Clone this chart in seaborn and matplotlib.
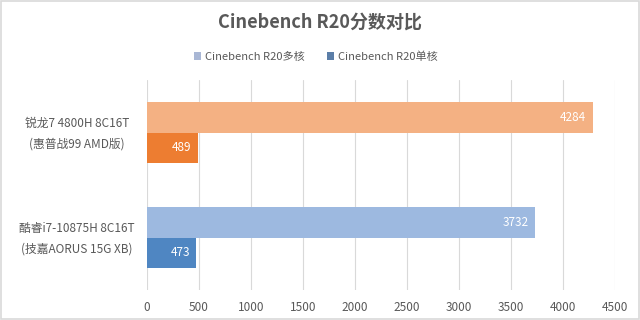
import matplotlib
matplotlib.use("Agg")
import matplotlib.pyplot as plt
import matplotlib.transforms as mtrans
import seaborn as sns
import pandas as pd
from matplotlib.patches import Patch, Rectangle

categories = ["锐龙7 4800H 8C16T\n(惠普战99 AMD版)", "酷睿i7-10875H 8C16T\n(技嘉AORUS 15G XB)"]
series_names = ["Cinebench R20多核", "Cinebench R20单核"]
multi_core = [4284, 3732]
single_core = [489, 473]
x_ticks = [0, 500, 1000, 1500, 2000, 2500, 3000, 3500, 4000, 4500]

bar_colors = [["#F4B183", "#ED7D31"], ["#9DB9E0", "#4F86C2"]]
legend_colors = ["#A9B7D5", "#5B7EA8"]

sns.set_theme(style="white")
plt.rcParams['font.family'] = ['Noto Sans CJK SC', 'DejaVu Sans']

df = pd.DataFrame({
    "cat": categories * 2,
    "series": [series_names[0]] * 2 + [series_names[1]] * 2,
    "value": multi_core + single_core,
})

fig = plt.figure(figsize=(6.4, 3.2), dpi=100)
ax = fig.add_axes([147 / 640, 30 / 320, 468 / 640, 210 / 320])

sns.barplot(data=df, y="cat", x="value", hue="series", orient="h",
            width=0.58, palette=legend_colors, ax=ax, legend=False,
            saturation=1, errorbar=None)

for si, cont in enumerate(ax.containers):
    for ci, bar in enumerate(cont):
        bar.set_facecolor(bar_colors[ci][si])
        bar.set_edgecolor("none")
    vals = multi_core if si == 0 else single_core
    txts = ax.bar_label(cont, labels=[str(v) for v in vals], padding=-4.5,
                        color="white", fontsize=8.5)
    for t in txts:
        t.set_horizontalalignment("right")

ax.set_xlim(0, 4500)
ax.set_xticks(x_ticks)
ax.set_ylim(1.5, -0.5)
ax.xaxis.grid(True, color="#D9D9D9", linewidth=0.8)
ax.set_axisbelow(True)
for s in ax.spines.values():
    s.set_visible(False)
ax.set_xlabel("")
ax.set_ylabel("")
ax.tick_params(axis="x", colors="#595959", labelsize=8.5, length=0, pad=8)
ax.tick_params(axis="y", length=0)
ticks = ax.get_yticks()
ax.set_yticks(ticks)
ax.set_yticklabels([""] * len(ticks))

trans = mtrans.blended_transform_factory(fig.transFigure, ax.transData)
trans = trans + mtrans.ScaledTranslation(0, -1.5 / 100, fig.dpi_scale_trans)
for i, cat in enumerate(categories):
    ax.text(77 / 640, i, cat, transform=trans, ha="center", va="center",
            multialignment="center", linespacing=1.75, fontsize=8.5,
            color="#595959")

fig.text(0.5, 298 / 320, "Cinebench R20分数对比", ha="center", va="center",
         fontsize=13, fontweight="bold", color="#595959")

handles = [Patch(facecolor=legend_colors[i], edgecolor="none", label=series_names[i]) for i in range(2)]
fig.legend(handles=handles, loc="center", bbox_to_anchor=(0.493, 263 / 320), ncol=2,
           frameon=False, fontsize=8, labelcolor="#595959", handlelength=0.7,
           handleheight=0.7, handletextpad=0.3, columnspacing=2.0)

fig.patches.append(Rectangle((0.002, 0.003), 0.996, 0.994, transform=fig.transFigure,
                             fill=False, edgecolor="#D9D9D9", linewidth=1.2))

fig.savefig("out.png", dpi=100)
